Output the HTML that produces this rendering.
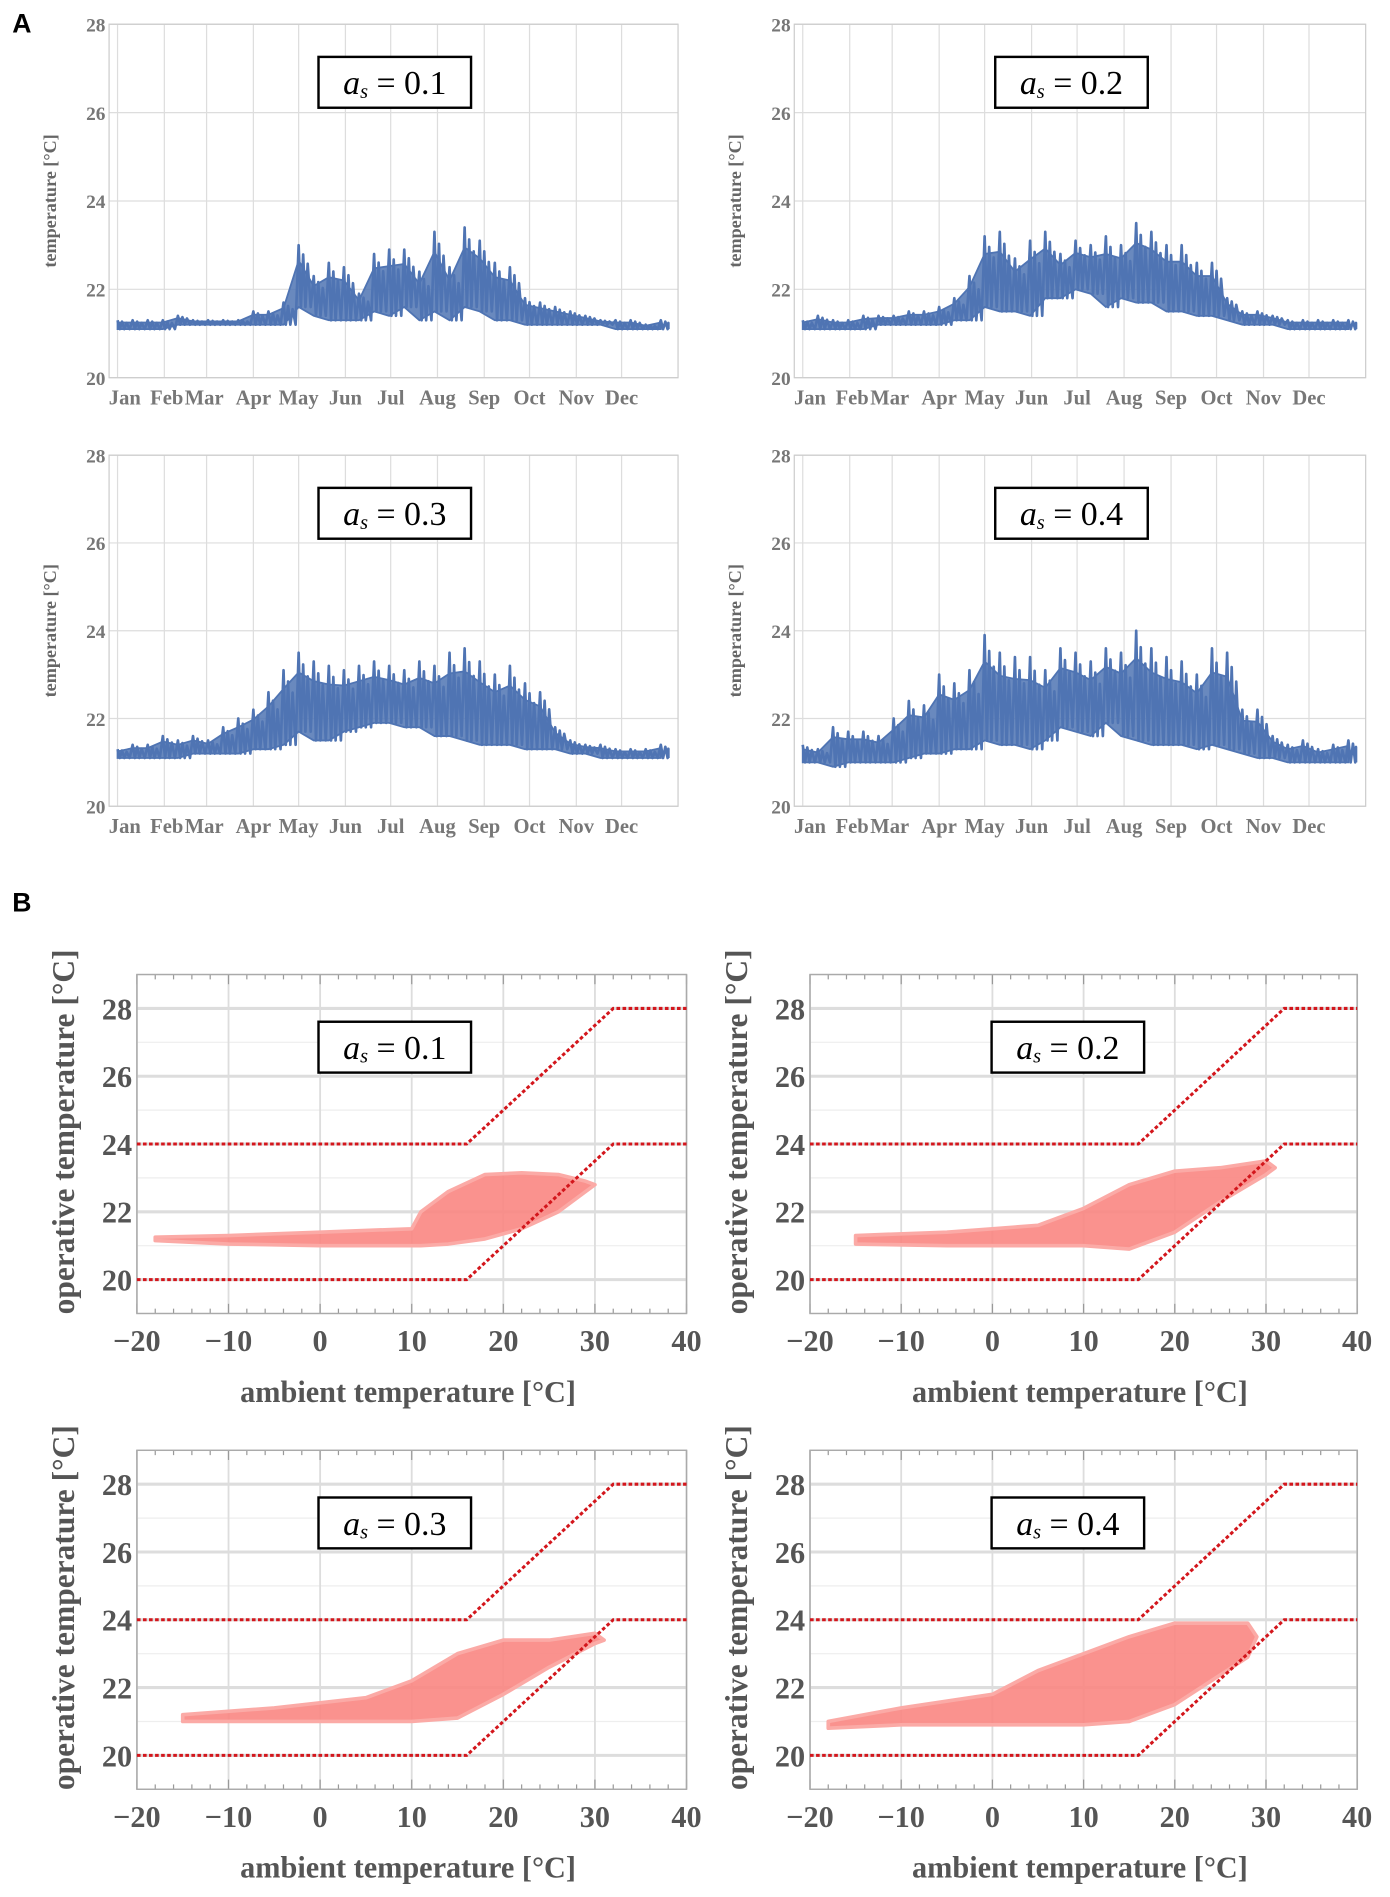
<!DOCTYPE html>
<html><head><meta charset="utf-8"><style>
html,body{margin:0;padding:0;background:#fff;}
svg{display:block;}
</style></head><body>
<svg id="fig" width="1390" height="1897" viewBox="0 0 1148 1567" xmlns="http://www.w3.org/2000/svg" font-family="'Liberation Serif', serif">
<text x="10" y="27" font-family="'Liberation Sans', sans-serif" font-weight="bold" font-size="22" fill="#000">A</text>
<text x="10" y="753" font-family="'Liberation Sans', sans-serif" font-weight="bold" font-size="22" fill="#000">B</text>
</svg>
<script>
// ---------- Panel A data (10-day samples, peaks then troughs) ----------
const monthNames = ["Jan","Feb","Mar","Apr","May","Jun","Jul","Aug","Sep","Oct","Nov","Dec"];
const monthStarts = [0,31,59,90,120,151,181,212,243,273,304,334];
const tsTicks = [20,22,24,26,28];
const hi01 = [21.3,21.3,21.3,21.3,21.4,21.3,21.3,21.3,21.3,21.5,21.5,21.7,23.0,22.3,22.6,22.5,21.9,22.8,22.9,22.9,22.4,23.3,22.5,23.4,23.1,22.6,22.5,21.8,21.7,21.6,21.5,21.4,21.3,21.3,21.3,21.2,21.3];
const lo01 = [21.1,21.1,21.1,21.1,21.2,21.2,21.2,21.2,21.2,21.2,21.2,21.2,21.6,21.4,21.3,21.3,21.3,21.5,21.4,21.6,21.3,21.5,21.3,21.6,21.5,21.3,21.3,21.2,21.2,21.2,21.2,21.2,21.2,21.1,21.1,21.1,21.1];
const hi02 = [21.3,21.4,21.3,21.3,21.4,21.4,21.4,21.5,21.5,21.6,21.8,22.3,23.2,23.3,22.7,23.1,23.3,22.8,23.1,23.0,23.2,23.0,23.5,23.3,23.0,23.0,22.6,22.6,21.8,21.5,21.5,21.4,21.3,21.3,21.3,21.3,21.3];
const lo02 = [21.1,21.1,21.1,21.1,21.1,21.2,21.2,21.2,21.2,21.2,21.3,21.3,21.6,21.5,21.5,21.4,21.8,21.8,22.0,21.9,21.6,21.8,21.7,21.7,21.5,21.5,21.4,21.4,21.3,21.2,21.2,21.2,21.1,21.1,21.1,21.1,21.1];
const hi03 = [21.3,21.4,21.4,21.6,21.5,21.6,21.5,21.8,22.0,22.2,22.6,23.1,23.5,23.3,23.2,23.1,23.2,23.3,23.2,23.1,23.3,23.2,23.5,23.6,23.3,23.0,23.2,22.8,22.6,21.8,21.5,21.4,21.4,21.3,21.3,21.3,21.4];
const lo03 = [21.1,21.1,21.1,21.1,21.1,21.2,21.2,21.2,21.2,21.3,21.3,21.4,21.7,21.5,21.5,21.7,21.8,21.9,21.9,21.8,21.8,21.6,21.6,21.5,21.4,21.4,21.4,21.3,21.3,21.3,21.2,21.2,21.1,21.1,21.1,21.1,21.1];
const hi04 = [21.4,21.3,21.8,21.7,21.7,21.6,22.0,22.4,22.3,23.0,22.8,23.1,23.9,23.5,23.4,23.4,23.1,23.6,23.5,23.3,23.6,23.5,24.0,23.6,23.4,23.3,23.0,23.6,23.5,22.2,22.2,21.6,21.4,21.5,21.3,21.4,21.5];
const lo04 = [21.0,21.0,20.9,21.0,21.0,21.0,21.0,21.1,21.2,21.2,21.3,21.3,21.5,21.4,21.4,21.3,21.5,21.8,21.7,21.6,21.9,21.6,21.5,21.4,21.4,21.4,21.3,21.4,21.3,21.2,21.1,21.1,21.0,21.0,21.0,21.0,21.0];

// ---------- Panel B data (scatter cloud envelopes) ----------
const bxTicks = [-20,-10,0,10,20,30,40];
const byTicks = [20,22,24,26,28];
const limitX = [-20,16,32,40];
const limitLow = [20,20,24,24];
const limitHigh = [24,24,28,28];
const env01X = [-18,-10,0,10,11,14,18,22,26,29,30];
const env01Up = [21.25,21.3,21.4,21.5,22.0,22.6,23.1,23.15,23.1,22.9,22.8];
const env01Lo = [21.15,21.05,21.0,21.0,21.0,21.05,21.2,21.5,22.0,22.6,22.8];
const env02X = [-15,-5,0,5,10,15,20,25,30,31];
const env02Up = [21.3,21.4,21.5,21.6,22.1,22.8,23.2,23.3,23.5,23.3];
const env02Lo = [21.05,21.0,21.0,21.0,21.0,20.9,21.4,22.3,23.1,23.3];
const env03X = [-15,-5,5,10,15,20,25,30,31];
const env03Up = [21.2,21.4,21.7,22.2,23.0,23.4,23.4,23.6,23.4];
const env03Lo = [21.0,21.0,21.0,21.0,21.1,21.8,22.6,23.3,23.4];
const env04X = [-18,-10,0,5,10,15,20,28,29];
const env04Up = [21.0,21.4,21.8,22.5,23.0,23.5,23.9,23.9,23.5];
const env04Lo = [20.8,20.9,20.9,20.9,20.9,21.0,21.5,22.9,23.5];

const NS = "http://www.w3.org/2000/svg";
const svg = document.getElementById("fig");
function mk(tag, attrs, parent){ const e=document.createElementNS(NS,tag); for(const k in attrs) e.setAttribute(k,attrs[k]); (parent||svg).appendChild(e); return e; }

function asLabel(g, cx, cy, val, fs){
  const bw=126, bh=42;
  const r=mk("rect",{x:cx-bw/2,y:cy-bh/2,width:bw,height:bh,fill:"#fff",stroke:"#000","stroke-width":2},g);
  
  
  const t=mk("text",{x:cx,y:cy+fs*0.35,"text-anchor":"middle","font-size":fs,fill:"#000"},g);
  
  
  t.innerHTML='<tspan font-style="italic">a</tspan><tspan font-style="italic" font-size="'+(fs*0.6)+'" dy="3">s</tspan><tspan dy="-3"> = '+val+'</tspan>';
}

function tsPanel(px, py, w, h, hi, lo, val, name, labelOff){
  const g=mk("g",{});
  
  
  const d0=px+7, dw=w-15;
  const X=d=>d0+Math.min(d,365)*dw/365, Y=v=>py+h-(v-20)/8*h;
  tsTicks.forEach(v=>{
    const l=mk("line",{x1:px,x2:px+w,y1:Y(v),y2:Y(v),stroke:"#ddd","stroke-width":1},g);
    
    
    const t=mk("text",{x:px-3,y:Y(v)+6,"text-anchor":"end","font-size":16,"font-weight":"bold",fill:"#777"},g);
    
    
    t.textContent=v;
  });
  monthStarts.forEach((d,i)=>{
    const l=mk("line",{x1:X(d),x2:X(d),y1:py,y2:py+h,stroke:"#ddd","stroke-width":1},g);
    
    
    const t=mk("text",{x:X(d)+(i==0?6:i==1?2:i==2?-2:0),y:py+h+22,"text-anchor":"middle","font-size":17,"font-weight":"bold",fill:"#777"},g);
    
    
    t.textContent=monthNames[i];
  });
  const fr=mk("rect",{x:px,y:py,width:w,height:h,fill:"none",stroke:"#ccc","stroke-width":1},g);
  
  
  const yl=mk("text",{transform:`translate(${px-44},${py+h/2}) rotate(-90)`,"text-anchor":"middle","font-size":15,"font-weight":"bold",fill:"#666"},g);
  
  
  yl.textContent="temperature [°C]";
  let band=[];
  for(let i=0;i<hi.length;i++) band.push(X(i*10)+","+Y(hi[i]*0.75+lo[i]*0.25));
  for(let i=hi.length-1;i>=0;i--) band.push(X(i*10)+","+Y(lo[i]));
  const bp=mk("polygon",{points:band.join(" "),fill:"#4f74b3","fill-opacity":0.85,stroke:"#4f74b3","stroke-width":1.5},g);
  
  
  let pts=[];
  for(let i=0;i<hi.length;i++){
    const base=i*10;
    const m=(hi[i]+lo[i])/2;
    pts.push(X(base)+","+Y(hi[i]));
    pts.push(X(base+1.5)+","+Y(lo[i]));
    pts.push(X(base+3)+","+Y(m+0.35*(hi[i]-lo[i])));
    pts.push(X(base+4.5)+","+Y(lo[i]));
    pts.push(X(base+6)+","+Y(m+0.2*(hi[i]-lo[i])));
    pts.push(X(base+8)+","+Y(lo[i]));
  }
  const pl=mk("polyline",{points:pts.join(" "),fill:"none",stroke:"#4f74b3","stroke-width":2.2,"stroke-linejoin":"round"},g);
  
  
  asLabel(g, px+labelOff, py+48, val, 28);
}

function scPanel(px, py, w, h, ex, eu, el, val, name){
  const g=mk("g",{});
  
  
  const X=v=>px+(v+20)/60*w, Y=v=>py+h-(v-19)/10*h;
  for(let v=19;v<=29;v+=1){
    const l=mk("line",{x1:px,x2:px+w,y1:Y(v),y2:Y(v),stroke:v%2==0?"#ddd":"#eee","stroke-width":v%2==0?2.5:1},g);
    
    
  }
  for(let v=-20;v<=40;v+=10){
    const l=mk("line",{x1:X(v),x2:X(v),y1:py,y2:py+h,stroke:"#ddd","stroke-width":1.5},g);
    
    
  }
  for(let v=-20;v<=40;v+=2){
    mk("line",{x1:X(v),x2:X(v),y1:py+h,y2:py+h-(v%10==0?8:4),stroke:"#999","stroke-width":1},g);
    mk("line",{x1:X(v),x2:X(v),y1:py,y2:py+(v%10==0?8:4),stroke:"#999","stroke-width":1},g);
  }
  const fr=mk("rect",{x:px,y:py,width:w,height:h,fill:"none",stroke:"#aaa","stroke-width":1.2},g);
  
  
  byTicks.forEach(v=>{
    const t=mk("text",{x:px-4,y:Y(v)+9,"text-anchor":"end","font-size":25,"font-weight":"bold",fill:"#555"},g);
    
    
    t.textContent=v;
  });
  bxTicks.forEach(v=>{
    const t=mk("text",{x:X(v),y:py+h+31,"text-anchor":"middle","font-size":25,"font-weight":"bold",fill:"#555"},g);
    
    
    t.textContent=(v<0?"\u2212"+(-v):v);
  });
  const xl=mk("text",{x:px+w/2-3,y:py+h+73,"text-anchor":"middle","font-size":25,"font-weight":"bold",fill:"#555"},g);
  
  
  xl.textContent="ambient temperature [°C]";
  const yl=mk("text",{transform:`translate(${px-52},${py+h/2-10}) rotate(-90)`,"text-anchor":"middle","font-size":26,"font-weight":"bold",fill:"#555"},g);
  
  
  yl.textContent="operative temperature [°C]";
  let pts=ex.map((x,i)=>X(x)+","+Y(eu[i]));
  for(let i=ex.length-1;i>=0;i--) pts.push(X(ex[i])+","+Y(el[i]));
  const cl=mk("polygon",{points:pts.join(" "),fill:"#f98682","fill-opacity":0.9,stroke:"#fbaaa6","stroke-width":3,"stroke-linejoin":"round"},g);
  
  
  [limitLow,limitHigh].forEach((arr,k)=>{
    const p=limitX.map((x,i)=>X(x)+","+Y(arr[i])).join(" ");
    const l=mk("polyline",{points:p,fill:"none",stroke:"#d3161c","stroke-width":2.5,"stroke-dasharray":"3 2"},g);
    
    
  });
  asLabel(g, px+213, py+60, val, 28);
}

tsPanel(90,20,470,292,hi01,lo01,"0.1","timeseries-as-0-1",236);
tsPanel(656,20,472,292,hi02,lo02,"0.2","timeseries-as-0-2",229);
tsPanel(90,376,470,290,hi03,lo03,"0.3","timeseries-as-0-3",236);
tsPanel(656,376,472,290,hi04,lo04,"0.4","timeseries-as-0-4",229);
scPanel(113,805,454,280,env01X,env01Up,env01Lo,"0.1","scatter-as-0-1");
scPanel(669,805,452,280,env02X,env02Up,env02Lo,"0.2","scatter-as-0-2");
scPanel(113,1198,454,280,env03X,env03Up,env03Lo,"0.3","scatter-as-0-3");
scPanel(669,1198,452,280,env04X,env04Up,env04Lo,"0.4","scatter-as-0-4");
</script>
</body></html>
